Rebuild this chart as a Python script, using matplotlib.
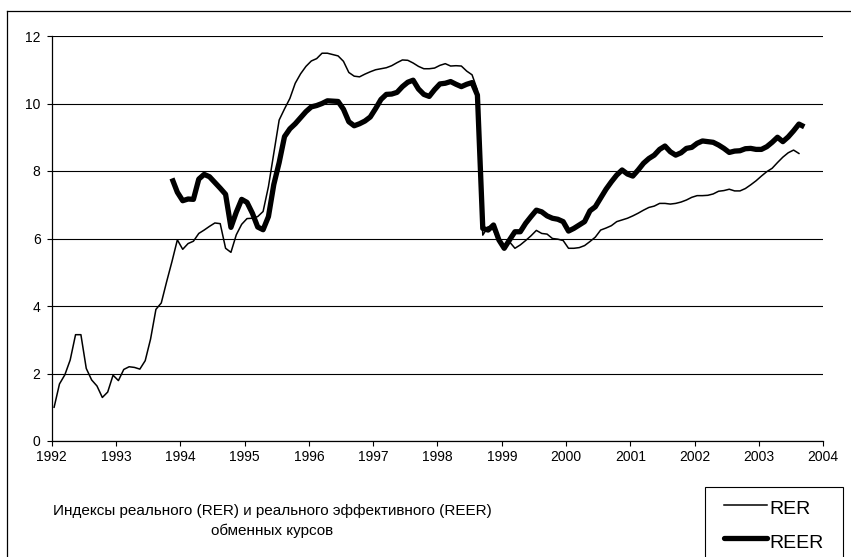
import matplotlib
matplotlib.use('Agg')
import matplotlib.pyplot as plt
import numpy as np
from matplotlib.lines import Line2D
from matplotlib.patches import Rectangle

plt.rcParams['font.family'] = ['Liberation Sans', 'DejaVu Sans']

# ---- data (monthly) ----
rer_start = 1992.0            # Jan 1992
reer_start = 1993 + 10 / 12   # Nov 1993

rer = [1.0, 1.69, 1.96, 2.4, 3.15, 3.15, 2.15, 1.81, 1.63, 1.29, 1.45, 1.95,
       1.79, 2.12, 2.2, 2.18, 2.13, 2.38, 3.02, 3.9, 4.09, 4.72, 5.32, 5.96,
       5.68, 5.85, 5.92, 6.15, 6.25, 6.36, 6.46, 6.44, 5.71, 5.59, 6.11, 6.42,
       6.59, 6.6, 6.65, 6.8, 7.54, 8.52, 9.51, 9.84, 10.15, 10.6, 10.88, 11.1,
       11.26, 11.33, 11.49, 11.49, 11.45, 11.41, 11.25, 10.92, 10.81, 10.79, 10.87, 10.94,
       11.0, 11.03, 11.06, 11.12, 11.21, 11.29, 11.28, 11.2, 11.1, 11.03, 11.03, 11.05,
       11.13, 11.18, 11.11, 11.12, 11.11, 10.96, 10.85, 10.4, 6.1, 6.35, 6.25, 5.9,
       5.75, 5.9, 5.71, 5.81, 5.94, 6.08, 6.24, 6.15, 6.13, 6.0, 5.98, 5.94,
       5.71, 5.71, 5.73, 5.79, 5.91, 6.04, 6.25, 6.31, 6.38, 6.5, 6.55, 6.6,
       6.67, 6.75, 6.84, 6.92, 6.96, 7.04, 7.04, 7.02, 7.04, 7.08, 7.14, 7.22,
       7.27, 7.27, 7.28, 7.32, 7.4, 7.42, 7.46, 7.41, 7.41, 7.48, 7.59, 7.71,
       7.85, 7.98, 8.08, 8.25, 8.41, 8.54, 8.62, 8.52]

reer = [7.78, 7.37, 7.12, 7.17, 7.16, 7.76, 7.9, 7.83, 7.66, 7.49, 7.31, 6.33,
        6.78, 7.16, 7.07, 6.75, 6.34, 6.26, 6.65, 7.6, 8.25, 9.02, 9.25, 9.4,
        9.58, 9.76, 9.9, 9.94, 10.0, 10.08, 10.07, 10.06, 9.83, 9.46, 9.34, 9.4,
        9.48, 9.6, 9.85, 10.12, 10.27, 10.28, 10.33, 10.5, 10.63, 10.69, 10.43, 10.27,
        10.21, 10.41, 10.58, 10.6, 10.65, 10.57, 10.5, 10.57, 10.62, 10.25, 6.3, 6.25,
        6.4, 5.96, 5.71, 5.96, 6.2, 6.2, 6.45, 6.65, 6.84, 6.79, 6.67, 6.6,
        6.57, 6.5, 6.22, 6.3, 6.4, 6.5, 6.82, 6.94, 7.2, 7.46, 7.68, 7.88,
        8.03, 7.91, 7.85, 8.03, 8.23, 8.37, 8.47, 8.64, 8.74, 8.57, 8.47, 8.54,
        8.67, 8.7, 8.82, 8.89, 8.87, 8.85, 8.77, 8.67, 8.55, 8.59, 8.6, 8.66,
        8.67, 8.64, 8.64, 8.72, 8.85, 9.0, 8.87, 9.01, 9.19, 9.39, 9.31]

years = list(range(1992, 2005))
yticks = [0, 2, 4, 6, 8, 10, 12]
series_labels = ['RER', 'REER']
title = 'Индексы реального (RER) и реального эффективного (REER)\nобменных курсов'

# ---- figure ----
W, H = 851, 557
fig = plt.figure(figsize=(W / 100, H / 100), dpi=100)
fig.patch.set_facecolor('white')

def fx(x):
    return x / W

def fy(y):
    return 1 - y / H

ax = fig.add_axes([fx(51.7), fy(441), (823.3 - 51.7) / W, (441 - 36) / H])

x_rer = rer_start + (np.arange(len(rer)) + 0.45) / 12
x_reer = reer_start + (np.arange(len(reer)) + 0.45) / 12

ax.plot(x_rer, rer, color='black', lw=1.1, solid_joinstyle='round', zorder=3)
ax.plot(x_reer, reer, color='black', lw=3.8, solid_joinstyle='round',
        solid_capstyle='butt', zorder=4)

ax.set_xlim(years[0], years[-1])
ax.set_ylim(yticks[0], yticks[-1])
ax.set_xticks(years)
ax.set_yticks(yticks)
ax.grid(axis='y', color='black', lw=0.8)
ax.set_axisbelow(True)
for s in ['top', 'right']:
    ax.spines[s].set_visible(False)
for s in ['left', 'bottom']:
    ax.spines[s].set_color('black')
    ax.spines[s].set_linewidth(0.9)
ax.tick_params(axis='both', direction='out', length=3.5, width=0.8,
               labelsize=10, colors='black')
ax.tick_params(axis='x', pad=3)
ax.tick_params(axis='y', pad=4.5)

# outer frame (partially visible)
fig.add_artist(Line2D([fx(7), fx(7)], [fy(11), 0], color='black', lw=0.9))
fig.add_artist(Line2D([fx(7), 1], [fy(11), fy(11)], color='black', lw=0.9))

# caption
fig.text(fx(272), fy(521), title, ha='center', va='center', multialignment='center',
         fontsize=11, color='black', linespacing=1.5)

# legend box
fig.add_artist(Rectangle((fx(705), fy(575)), (842.7 - 705) / W, (575 - 487.3) / H,
                         transform=fig.transFigure, facecolor='white',
                         edgecolor='black', lw=0.8))
fig.add_artist(Line2D([fx(724), fx(767)], [fy(505), fy(505)], color='black', lw=1.1))
fig.add_artist(Line2D([fx(724), fx(767)], [fy(537.5), fy(537.5)], color='black', lw=3.8,
                      solid_capstyle='round'))
fig.text(fx(769), fy(514), series_labels[0], ha='left', va='baseline', fontsize=14)
fig.text(fx(769), fy(548.3), series_labels[1], ha='left', va='baseline', fontsize=14)

fig.savefig('out.png', dpi=100)
